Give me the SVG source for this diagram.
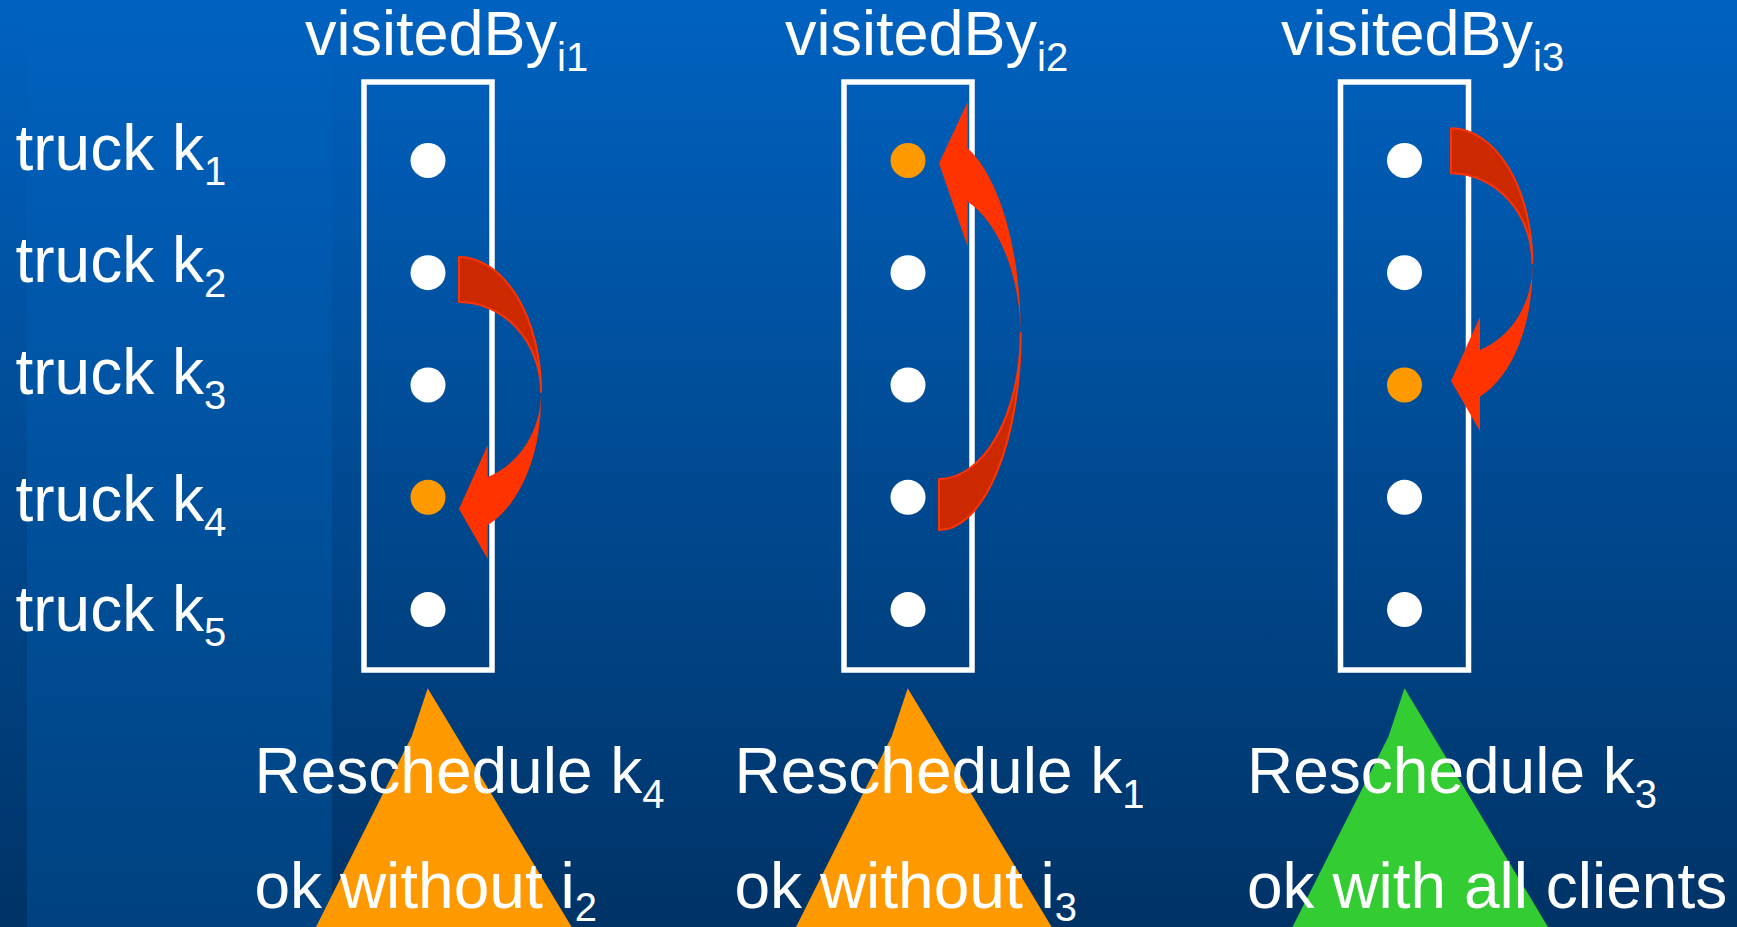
<svg xmlns="http://www.w3.org/2000/svg" width="1737" height="927" viewBox="0 0 1737 927">
  <defs>
    <linearGradient id="bg" x1="0" y1="0" x2="0" y2="1">
      <stop offset="0" stop-color="#0062C0"/>
      <stop offset="1" stop-color="#003366"/>
    </linearGradient>
    <linearGradient id="band" x1="0" y1="0" x2="0" y2="1">
      <stop offset="0" stop-color="#0062C0"/>
      <stop offset="1" stop-color="#00427F"/>
    </linearGradient>
    <style>
      .lbl { font-family: "Liberation Sans", Arial, sans-serif; fill: #FFFFFF; font-size: 64px; }
      .ttl { font-family: "Liberation Sans", Arial, sans-serif; fill: #FFFFFF; font-size: 63px; }
      .sub { font-size: 40px; }
      .box { fill: none; stroke: #FFFFFF; stroke-width: 5.5; }
      .dot { fill: #FFFFFF; }
      .hit { fill: #FF9900; }
      .back { fill: #CC2900; stroke: #FF3300; stroke-width: 2; stroke-linejoin: round; }
      .front { fill: #FF3300; }
      .warn { fill: #FF9900; }
      .good { fill: #33CC33; }
    </style>
  </defs>

  <!-- slide background with lighter vertical band -->
  <g id="background">
    <rect x="0" y="0" width="1737" height="927" fill="url(#bg)"/>
    <rect x="27" y="0" width="305" height="927" fill="url(#band)"/>
  </g>

  <!-- truck row labels -->
  <g id="truck-labels" class="lbl">
    <text x="15.5" y="169.5">truck k<tspan class="sub" dy="15">1</tspan></text>
    <text x="15.5" y="281.7">truck k<tspan class="sub" dy="15">2</tspan></text>
    <text x="15.5" y="393.5">truck k<tspan class="sub" dy="15">3</tspan></text>
    <text x="15.5" y="520.7">truck k<tspan class="sub" dy="15">4</tspan></text>
    <text x="15.5" y="630.7">truck k<tspan class="sub" dy="15">5</tspan></text>
  </g>

  <!-- visitedBy columns -->
  <g id="column-i1">
    <text class="ttl" x="305" y="55">visitedBy<tspan class="sub" dy="16">i1</tspan></text>
    <rect class="box" x="364" y="82" width="128" height="588"/>
    <circle class="dot" cx="428" cy="160.5" r="17.5"/>
    <circle class="dot" cx="428" cy="272.7" r="17.5"/>
    <circle class="dot" cx="428" cy="385" r="17.5"/>
    <circle class="hit" cx="428" cy="497.3" r="17.5"/>
    <circle class="dot" cx="428" cy="609.6" r="17.5"/>
  </g>

  <g id="column-i2">
    <text class="ttl" x="785" y="55">visitedBy<tspan class="sub" dy="16">i2</tspan></text>
    <rect class="box" x="844" y="82" width="128" height="588"/>
    <circle class="hit" cx="908" cy="160.5" r="17.5"/>
    <circle class="dot" cx="908" cy="272.7" r="17.5"/>
    <circle class="dot" cx="908" cy="385" r="17.5"/>
    <circle class="dot" cx="908" cy="497.3" r="17.5"/>
    <circle class="dot" cx="908" cy="609.6" r="17.5"/>
  </g>

  <g id="column-i3">
    <text class="ttl" x="1281" y="55">visitedBy<tspan class="sub" dy="16">i3</tspan></text>
    <rect class="box" x="1340.5" y="82" width="128" height="588"/>
    <circle class="dot" cx="1404.5" cy="160.5" r="17.5"/>
    <circle class="dot" cx="1404.5" cy="272.7" r="17.5"/>
    <circle class="hit" cx="1404.5" cy="385" r="17.5"/>
    <circle class="dot" cx="1404.5" cy="497.3" r="17.5"/>
    <circle class="dot" cx="1404.5" cy="609.6" r="17.5"/>
  </g>

  <!-- curved reschedule arrows -->
  <g id="connectors">
    <g id="arrow-k2-k4">
      <path class="back" d="M459,257 A82,135 0 0 1 541,392 A82,90 0 0 0 459,302 Z"/>
      <path class="front" d="M541,392 A82,135 0 0 1 487.7,525 L487.7,559 L459,509 L487.7,445 L487.7,477 A82,90 0 0 0 541,392 Z"/>
    </g>
    <g id="arrow-k4-k1">
      <path class="back" d="M939,530 A81.7,197 0 0 0 1020.7,333 A81.7,146 0 0 1 939,479 Z"/>
      <path class="front" d="M1020.7,333 A81.7,197 0 0 0 967.7,148.3 L967.7,101.7 L939,163.3 L967.7,246.7 L967.7,201.7 A81.7,146 0 0 1 1020.7,333 Z"/>
    </g>
    <g id="arrow-k1-k3">
      <path class="back" d="M1451,128.3 A81.3,135 0 0 1 1532.3,263.3 A81.3,90 0 0 0 1451,173.3 Z"/>
      <path class="front" d="M1532.3,263.3 A81.3,135 0 0 1 1480,396.7 L1480,431 L1451,381 L1480,316.7 L1480,350 A81.3,90 0 0 0 1532.3,263.3 Z"/>
    </g>
  </g>

  <!-- outcome markers and captions -->
  <g id="outcome-i1">
    <polygon class="warn" points="427.7,688.3 411.7,736.5 316,927 571.7,927"/>
    <text class="lbl" x="254.5" y="793.3">Reschedule k<tspan class="sub" dy="15">4</tspan></text>
    <text class="lbl" x="254.5" y="907.7">ok without i<tspan class="sub" dy="13">2</tspan></text>
  </g>
  <g id="outcome-i2">
    <polygon class="warn" points="907.7,688.3 891.7,736.5 796,927 1051.7,927"/>
    <text class="lbl" x="734.5" y="793.3">Reschedule k<tspan class="sub" dy="15">1</tspan></text>
    <text class="lbl" x="734.5" y="907.7">ok without i<tspan class="sub" dy="13">3</tspan></text>
  </g>
  <g id="outcome-i3">
    <polygon class="good" points="1404.5,688.3 1388.5,736.5 1292.5,927 1548,927"/>
    <text class="lbl" x="1247" y="793.3">Reschedule k<tspan class="sub" dy="15">3</tspan></text>
    <text class="lbl" x="1247" y="907.7">ok with all clients</text>
  </g>
</svg>
